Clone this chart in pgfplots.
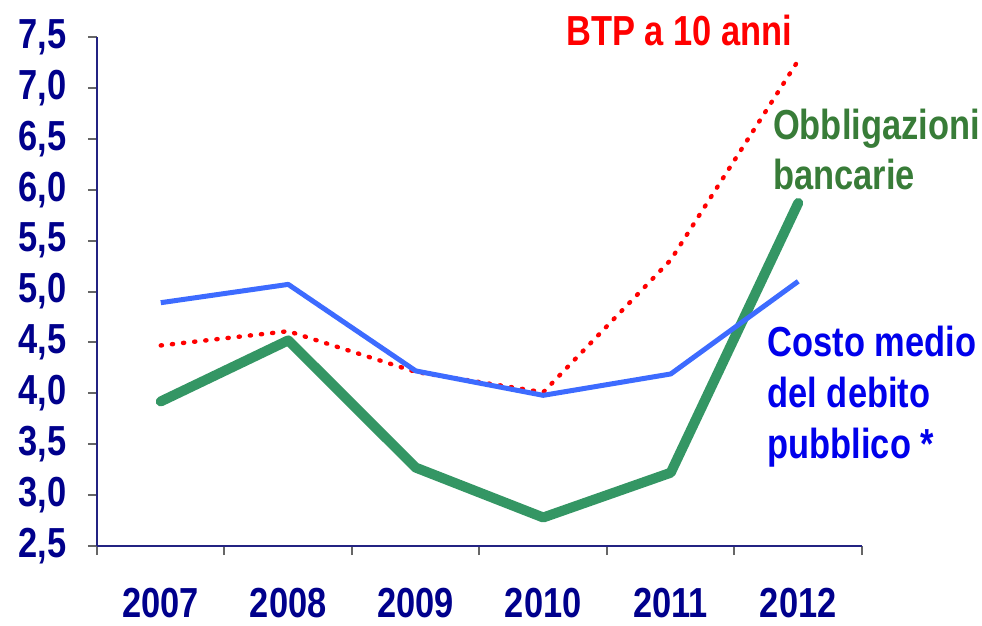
\documentclass[border=0pt]{standalone}
\usepackage{fontspec}
\setmainfont{Liberation Sans}[FakeStretch=0.82]
\usepackage{pgfplots}
\pgfplotsset{compat=1.18}
\definecolor{navy}{RGB}{0,0,140}
\definecolor{axnavy}{RGB}{35,35,130}
\definecolor{lineblue}{RGB}{61,107,255}
\definecolor{linegreen}{RGB}{52,150,100}
\definecolor{txtgreen}{RGB}{56,124,56}
\definecolor{txtblue}{RGB}{0,0,235}
\newcommand{\lbl}{\fontsize{21bp}{25bp}\selectfont\bfseries}

\begin{document}
\begin{tikzpicture}
\useasboundingbox (-48.5bp,-40bp) rectangle (442.5bp,273bp);
\begin{axis}[
  at={(0,0)}, anchor=south west,
  scale only axis, width=382.5bp, height=254.5bp,
  xmin=-0.5, xmax=5.5, ymin=2.5, ymax=7.5,
  axis x line*=bottom, axis y line*=left,
  axis line style={-, axnavy, line width=1bp},
  clip=false,
  tick align=outside,
  major tick length=4.5bp,
  tick style={black!60, line width=1bp},
  ytick={2.5,3.0,3.5,4.0,4.5,5.0,5.5,6.0,6.5,7.0,7.5},
  yticklabel style={font=\lbl, text=navy, anchor=east, inner sep=0pt, xshift=-10.5bp,
    /pgf/number format/fixed, /pgf/number format/fixed zerofill,
    /pgf/number format/precision=1, /pgf/number format/use comma,
    /pgf/number format/assume math mode=true},
  xtick={-0.5,0.5,1.5,2.5,3.5,4.5,5.5},
  xticklabels={},
  extra x ticks={0,1,2,3,4,5},
  extra x tick labels={2007,2008,2009,2010,2011,2012},
  extra x tick style={major tick length=0pt,
    xticklabel style={font=\lbl, text=navy, anchor=center, inner sep=0pt, yshift=-28.5bp}},
]
\addplot[linegreen, line width=5bp, line join=round, line cap=round, mark=none]
  coordinates {(0,3.92) (1,4.52) (2,3.27) (3,2.78) (4,3.22) (5,5.87)};
\addplot[red, line width=2.2bp, line cap=round, dash pattern=on 0.6bp off 5bp, mark=none]
  coordinates {(0,4.47) (1,4.61) (2,4.21) (3,4.01) (4,5.31) (5,7.27)};
\addplot[lineblue, line width=2.5bp, line join=round, mark=none]
  coordinates {(0,4.89) (1,5.07) (2,4.22) (3,3.98) (4,4.19) (5,5.10)};

\node[red, font=\lbl, anchor=base, inner sep=0pt] at (axis cs:4.066,7.42) {BTP a 10 anni};
\node[txtgreen, font=\lbl, anchor=base west, inner sep=0pt] at (axis cs:4.80,6.49) {Obbligazioni};
\node[txtgreen, font=\lbl, anchor=base west, inner sep=0pt] at (axis cs:4.80,6.00) {bancarie};
\node[txtblue, font=\lbl, anchor=base west, inner sep=0pt] at (axis cs:4.757,4.357) {Costo medio};
\node[txtblue, font=\lbl, anchor=base west, inner sep=0pt] at (axis cs:4.757,3.856) {del debito};
\node[txtblue, font=\lbl, anchor=base west, inner sep=0pt] at (axis cs:4.757,3.364) {pubblico *};
\end{axis}
\end{tikzpicture}
\end{document}
